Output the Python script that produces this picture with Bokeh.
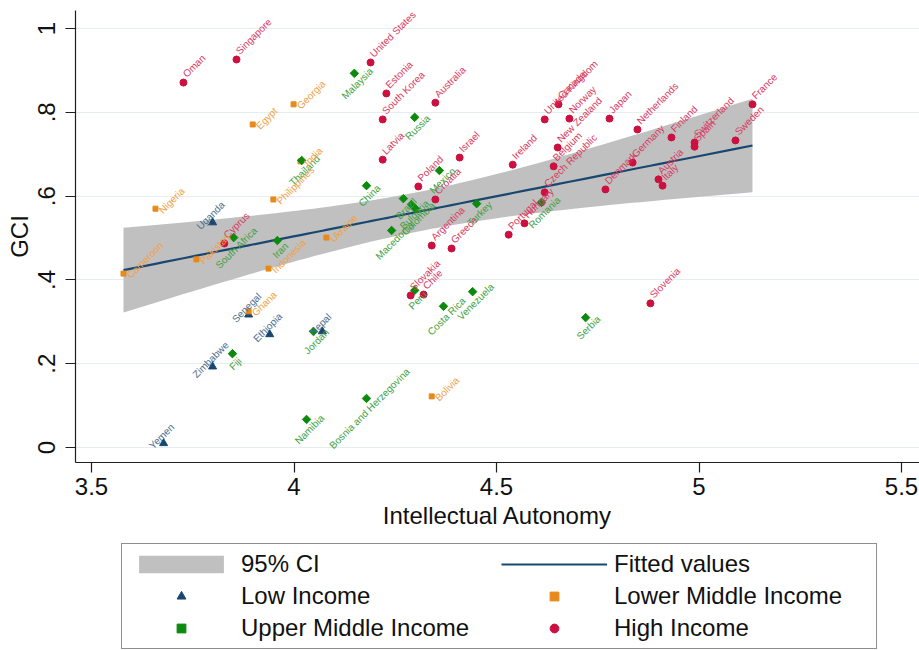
import numpy as np
from bokeh.plotting import figure
from bokeh.layouts import column
from bokeh.models import ColumnDataSource, Legend, LegendItem, FixedTicker, Range1d
from bokeh.core.properties import value
from bokeh.embed import file_html
from bokeh.resources import INLINE

FONT = "Liberation Sans"

# ---------------- data (Intellectual Autonomy, GCI) ----------------
high_names = ["Oman", "Singapore", "United States", "Estonia", "South Korea", "Australia",
              "Latvia", "Israel", "Poland", "Croatia", "Cyprus", "Ireland", "United Kingdom",
              "Canada", "Norway", "New Zealand", "Belgium", "Czech Republic", "Japan",
              "Netherlands", "Finland", "Switzerland", "Spain", "France", "Sweden", "Germany",
              "Denmark", "Austria", "Italy", "Portugal", "Hungary", "Argentina", "Greece",
              "Slovakia", "Chile", "Slovenia"]
high_x = [3.727, 3.858, 4.189, 4.228, 4.219, 4.349, 4.219, 4.409, 4.307, 4.349, 3.828, 4.540,
          4.619, 4.653, 4.680, 4.651, 4.641, 4.619, 4.779, 4.848, 4.932, 4.989, 4.989, 5.132,
          5.090, 4.836, 4.769, 4.900, 4.910, 4.530, 4.569, 4.340, 4.389, 4.288, 4.320, 4.880]
high_y = [0.871, 0.926, 0.919, 0.845, 0.783, 0.823, 0.687, 0.692, 0.623, 0.592, 0.487, 0.675,
          0.783, 0.819, 0.785, 0.716, 0.671, 0.609, 0.785, 0.759, 0.740, 0.728, 0.718, 0.819,
          0.733, 0.680, 0.616, 0.640, 0.625, 0.508, 0.535, 0.482, 0.475, 0.363, 0.365, 0.344]

upper_names = ["Malaysia", "Russia", "Thailand", "China", "Mexico", "Brazil", "Bulgaria",
               "Colombia", "Macedonia", "Turkey", "Romania", "South Africa", "Iran", "Peru",
               "Costa Rica", "Venezuela", "Jordan", "Fiji", "Namibia",
               "Bosnia and Herzegovina", "Serbia"]
upper_x = [4.149, 4.298, 4.019, 4.179, 4.359, 4.270, 4.290, 4.300, 4.241, 4.451, 4.611, 3.851,
           3.959, 4.298, 4.369, 4.441, 4.048, 3.848, 4.031, 4.179, 4.720]
upper_y = [0.893, 0.788, 0.685, 0.625, 0.661, 0.594, 0.580, 0.570, 0.518, 0.582, 0.585, 0.501,
           0.494, 0.375, 0.337, 0.372, 0.277, 0.224, 0.067, 0.117, 0.310]

lower_names = ["Egypt", "Georgia", "Nigeria", "Philippines", "India", "Cameroon", "Pakistan",
               "Indonesia", "Ukraine", "Ghana", "Bolivia"]
lower_x = [3.898, 3.999, 3.658, 3.949, 4.016, 3.579, 3.759, 3.937, 4.080, 3.888, 4.340]
lower_y = [0.771, 0.819, 0.570, 0.592, 0.683, 0.415, 0.449, 0.427, 0.501, 0.325, 0.122]

low_names = ["Uganda", "Senegal", "Ethiopia", "Nepal", "Zimbabwe", "Yemen"]
low_x = [3.799, 3.888, 3.940, 4.070, 3.799, 3.678]
low_y = [0.537, 0.317, 0.270, 0.277, 0.193, 0.010]

xtick_values = [3.5, 4, 4.5, 5, 5.5]
xtick_labels = ["3.5", "4", "4.5", "5", "5.5"]
ytick_values = [0, 0.2, 0.4, 0.6, 0.8, 1]
ytick_labels = ["0", ".2", ".4", ".6", ".8", "1"]

# ---------------- linear fit with 95% CI, from the data ----------------
ax_all = np.array(high_x + upper_x + lower_x + low_x)
ay_all = np.array(high_y + upper_y + lower_y + low_y)
n = len(ax_all)
xm, ym = ax_all.mean(), ay_all.mean()
sxx = ((ax_all - xm) ** 2).sum()
slope = ((ax_all - xm) * (ay_all - ym)).sum() / sxx
icpt = ym - slope * xm
s = np.sqrt(((ay_all - (icpt + slope * ax_all)) ** 2).sum() / (n - 2))
xs = np.sort(np.unique(ax_all))
fit = icpt + slope * xs
se = s * np.sqrt(1.0 / n + (xs - xm) ** 2 / sxx)
tcrit = 1.993
lo, hi = fit - tcrit * se, fit + tcrit * se

# ---------------- styles ----------------
C_HIGH, C_HIGH_T = "#CC1040", "#D93A62"
C_UP, C_UP_T = "#0B8A0B", "#3FA03F"
C_LOW_MID, C_LOW_MID_T = "#E8891B", "#EFA146"
C_LOW, C_LOW_T = "#1A476F", "#4A6E92"
C_BAND = "#C0C0C0"
C_FIT = "#1A476F"

# ---------------- main figure ----------------
p = figure(width=919, height=536, output_backend="svg", toolbar_location=None,
           x_range=Range1d(3.4605, 5.5444), y_range=Range1d(-0.0358, 1.043),
           min_border_left=75, min_border_right=0, min_border_top=10, min_border_bottom=74)
p.outline_line_color = None
p.background_fill_color = "white"
p.border_fill_color = "white"

band_src = ColumnDataSource(dict(x=xs, lo=lo, hi=hi, fit=fit))
p.varea(x="x", y1="lo", y2="hi", source=band_src, fill_color=C_BAND, fill_alpha=1.0)
p.line(x="x", y="fit", source=band_src, line_color=C_FIT, line_width=2.2)

src_low = ColumnDataSource(dict(x=low_x, y=low_y, name=low_names))
src_lm = ColumnDataSource(dict(x=lower_x, y=lower_y, name=lower_names))
src_um = ColumnDataSource(dict(x=upper_x, y=upper_y, name=upper_names))
src_hi = ColumnDataSource(dict(x=high_x, y=high_y, name=high_names))

p.scatter("x", "y", source=src_low, marker="triangle", size=8,
          fill_color=C_LOW, line_color=C_LOW)
p.scatter("x", "y", source=src_lm, marker="square", size=5,
          fill_color=C_LOW_MID, line_color=C_LOW_MID)
p.scatter("x", "y", source=src_um, marker="square", size=6, angle=45, angle_units="deg",
          fill_color=C_UP, line_color=C_UP)
p.scatter("x", "y", source=src_hi, marker="circle", size=7,
          fill_color=C_HIGH, line_color=C_HIGH)

lab_kw = dict(angle=45, angle_units="deg", text_font=value(FONT), text_font_size="10px")
p.text(x="x", y="y", text="name", source=src_hi, text_color=C_HIGH_T, text_align="left",
       text_baseline="alphabetic", x_offset=1, y_offset=-7, **lab_kw)
p.text(x="x", y="y", text="name", source=src_um, text_color=C_UP_T, text_align="center",
       text_baseline="middle", x_offset=3, y_offset=10, **lab_kw)
p.text(x="x", y="y", text="name", source=src_lm, text_color=C_LOW_MID_T, text_align="left",
       text_baseline="alphabetic", x_offset=5, y_offset=3, **lab_kw)
p.text(x="x", y="y", text="name", source=src_low, text_color=C_LOW_T, text_align="center",
       text_baseline="middle", x_offset=-2, y_offset=-7, **lab_kw)

# axes
p.xaxis.ticker = FixedTicker(ticks=xtick_values)
p.yaxis.ticker = FixedTicker(ticks=ytick_values)
xo = {}
for v, l in zip(xtick_values, xtick_labels):
    xo[float(v)] = l
    xo[str(v)] = l
    xo[str(float(v))] = l
yo = {}
for v, l in zip(ytick_values, ytick_labels):
    yo[float(v)] = l
    yo[str(v)] = l
    yo[str(float(v))] = l
p.xaxis.major_label_overrides = xo
p.yaxis.major_label_overrides = yo
p.xaxis.axis_label = "Intellectual Autonomy"
p.yaxis.axis_label = "GCI"
for a in (p.xaxis[0], p.yaxis[0]):
    a.axis_line_color = "#1E1E1E"
    a.axis_line_width = 1.2
    a.major_tick_line_color = "#1E1E1E"
    a.major_tick_line_width = 1.2
    a.major_tick_out = 10
    a.major_tick_in = 0
    a.minor_tick_line_color = None
    a.major_label_text_font = FONT
    a.major_label_text_font_size = "24px"
    a.major_label_text_color = "#111111"
    a.axis_label_text_font = FONT
    a.axis_label_text_font_size = "24px"
    a.axis_label_text_font_style = "normal"
    a.axis_label_text_color = "#111111"
p.xaxis.major_label_standoff = 5
p.xaxis.axis_label_standoff = 4
p.yaxis.major_label_standoff = 10
p.yaxis.axis_label_standoff = 3
p.yaxis.major_label_orientation = "vertical"

p.xgrid.visible = False
p.ygrid.grid_line_color = "#E4EDEF"
p.ygrid.grid_line_width = 1.2

# ---------------- legend (own strip below the plot) ----------------
# q shows only the legend; its renderers reuse the same data, which lies outside q's
# ranges, so only their legend swatches are visible.
q = figure(width=919, height=114, output_backend="svg", toolbar_location=None,
           x_range=Range1d(0, 1), y_range=Range1d(0, 1),
           x_axis_location=None, y_axis_location=None,
           min_border_left=75, min_border_right=0, min_border_top=0, min_border_bottom=0)
q.outline_line_color = None
q.grid.visible = False
q.border_fill_color = "white"
q.background_fill_color = "white"

e_band = q.varea(x="x", y1="lo", y2="hi", source=band_src, fill_color=C_BAND, fill_alpha=1.0)
e_fit = q.line(x="x", y="fit", source=band_src, line_color=C_FIT, line_width=2.2)
e_low = q.scatter("x", "y", source=src_low, marker="triangle",
                  fill_color=C_LOW, line_color=C_LOW)
e_lm = q.scatter("x", "y", source=src_lm, marker="square",
                 fill_color=C_LOW_MID, line_color=C_LOW_MID)
e_um = q.scatter("x", "y", source=src_um, marker="square", angle=45, angle_units="deg",
                 fill_color=C_UP, line_color=C_UP)
e_hi = q.scatter("x", "y", source=src_hi, marker="circle", fill_color=C_HIGH, line_color=C_HIGH)

# items are laid out column by column
legend = Legend(items=[
    LegendItem(label="95% CI", renderers=[e_band]),
    LegendItem(label="Low Income", renderers=[e_low]),
    LegendItem(label="Upper Middle Income", renderers=[e_um]),
    LegendItem(label="Fitted values", renderers=[e_fit]),
    LegendItem(label="Lower Middle Income", renderers=[e_lm]),
    LegendItem(label="High Income", renderers=[e_hi]),
], ncols=2, location=(46, 1))
legend.label_text_font = FONT
legend.label_text_font_size = "24px"
legend.label_text_color = "#111111"
legend.glyph_width = 106
legend.glyph_height = 22
legend.label_height = 24
legend.label_width = 256
legend.label_standoff = 7
legend.spacing = 4
legend.padding = 6
legend.margin = 0
legend.border_line_color = "#1E1E1E"
legend.border_line_width = 1
legend.background_fill_color = "white"
q.add_layout(legend, "center")

open("out.html", "w").write(file_html(column(p, q), INLINE))
